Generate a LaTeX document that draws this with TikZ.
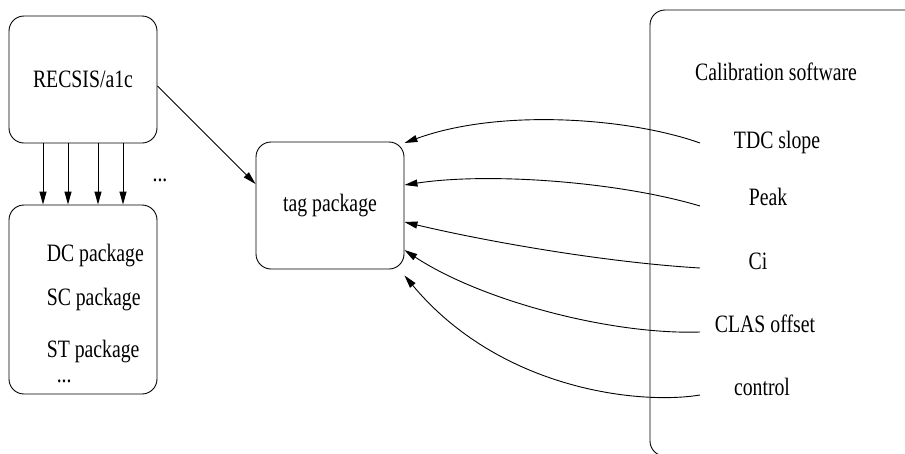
\documentclass[tikz,border=0pt]{standalone}
\usepackage{fontspec}
\setmainfont{Liberation Serif}[FakeStretch=0.79]
\usetikzlibrary{arrows.meta}

\begin{document}
\begin{tikzpicture}[
                x=1pt, y=-1pt,
                line width=0.9pt,
                every node/.style={font=\fontsize{25}{30}\selectfont},
                box/.style={draw, rounded corners=15pt, minimum width=148pt, minimum height=127pt, inner sep=0pt},
                >={Triangle[length=13pt, width=7pt]}
            ]

            \useasboundingbox (0,0) rectangle (905,453);
            \clip (0,0) rectangle (905,453);

            % RECSIS and the packages it calls
            \node[box] (recsis) at (83,79.5) {RECSIS/a1c};
            \node[box, minimum height=189pt] (pkgs) at (83,299.5) {};
            \node[anchor=base west] (dc) at (43,261) {DC package};
            \node[anchor=base west] (sc) at (43,305) {SC package};
            \node[anchor=base west] (st) at (43,357) {ST package};
            \node[anchor=base west] (more) at (53,382) {...};
            \node[anchor=base] (dots) at (160,181) {...};
            \foreach \dx in {-40,-15,15,40}
                \draw[->] ([xshift=\dx pt]recsis.south) -- ([xshift=\dx pt]pkgs.north);

            % tag package
            \node[box] (tag) at (330,205.5) {tag package};
            \draw[->] ([yshift=-6.5pt]recsis.east) -- ([yshift=21.5pt]tag.west);

            % Calibration software
            \node[draw, rounded corners=15pt, minimum width=300pt, minimum height=446pt, inner sep=0pt] (calib) at (800,233) {};
            \node[anchor=base] (calsw) at (776,80) {Calibration software};
            \node[anchor=base] (tdc) at (777,148) {TDC slope};
            \node[anchor=base] (peak) at (768,205) {Peak};
            \node[anchor=base] (ci) at (758,269) {Ci};
            \node[anchor=base] (clas) at (765,332) {CLAS offset};
            \node[anchor=base] (ctrl) at (762,395) {control};

            \coordinate (ftdc) at (700,143);
            \coordinate (fpeak) at (700,206);
            \coordinate (fci) at (700,268);
            \coordinate (fclas) at (700,332);
            \coordinate (fctrl) at (700,395);

            % constants into the tag package
            \draw[->] (ftdc) .. controls (630,118) and (500,108) .. ([yshift=62.5pt]tag.east);
            \draw[->] (fpeak) .. controls (620,182) and (490,172) .. ([yshift=20.5pt]tag.east);
            \draw[->] (fci) .. controls (600,262) and (480,240) .. ([yshift=-16.5pt]tag.east);
            \draw[->] (fclas) .. controls (610,335) and (480,300) .. ([yshift=-44.5pt]tag.east);
            \draw[->] (fctrl) .. controls (640,405) and (500,390) .. ([yshift=-6pt]tag.south east);

            \end{tikzpicture}
\end{document}
